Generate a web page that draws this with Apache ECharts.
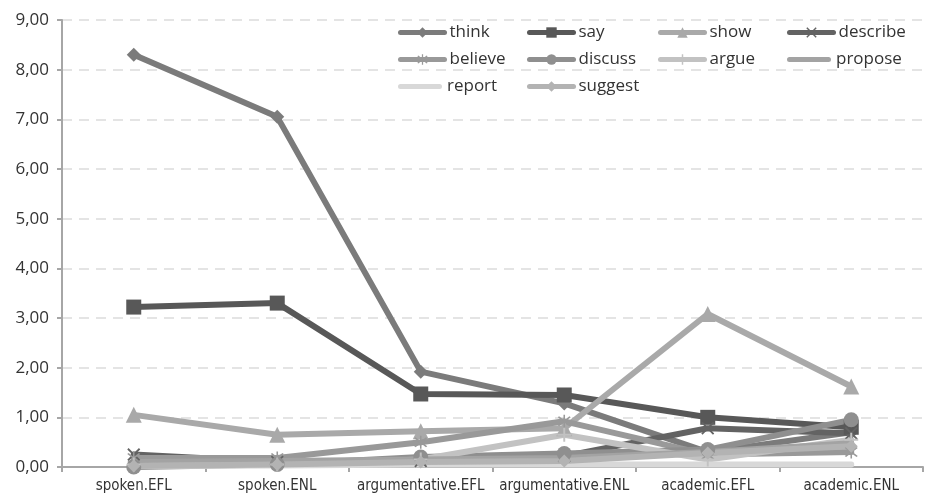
<!DOCTYPE html>
<html>
<head>
<meta charset="utf-8">
<script src="https://cdn.jsdelivr.net/npm/echarts@6/dist/echarts.min.js"></script>
<style>
  html, body { margin: 0; padding: 0; background: #fff; }
  #chart { width: 926px; height: 496px; }
</style>
</head>
<body>
<div id="chart"></div>
<script>
// Verb frequencies across the six corpora
const categories = ['spoken.EFL', 'spoken.ENL', 'argumentative.EFL', 'argumentative.ENL', 'academic.EFL', 'academic.ENL'];
const yTicks = [0, 1, 2, 3, 4, 5, 6, 7, 8, 9];

const think    = [8.30, 7.05, 1.92, 1.28, 0.30, 0.70];
const say      = [3.22, 3.30, 1.47, 1.45, 1.00, 0.80];
const show     = [1.05, 0.65, 0.72, 0.78, 3.08, 1.62];
const describe = [0.25, 0.10, 0.12, 0.22, 0.78, 0.68];
const believe  = [0.18, 0.18, 0.50, 0.92, 0.25, 0.30];
const discuss  = [0.00, 0.05, 0.20, 0.27, 0.35, 0.95];
const argue    = [0.05, 0.05, 0.15, 0.65, 0.15, 0.55];
const propose  = [0.10, 0.12, 0.15, 0.18, 0.30, 0.48];
const report   = [0.02, 0.03, 0.05, 0.05, 0.05, 0.05];
const suggest  = [0.02, 0.05, 0.10, 0.12, 0.28, 0.42];

const crossPath = 'path://M0,1L1,0L5,4L9,0L10,1L6,5L10,9L9,10L5,6L1,10L0,9L4,5Z';
const starPath = 'path://M0,1L1,0L5,4L9,0L10,1L6,5L10,9L9,10L5,6L1,10L0,9L4,5Z M4.4,-1.5L5.6,-1.5L5.6,11.5L4.4,11.5Z';
const plusPath = 'path://M4.3,0h1.4v4.3h4.3v1.4h-4.3v4.3h-1.4v-4.3h-4.3v-1.4h4.3Z';
// plain line key: a rounded bar centred in a 44x13 box (the corner specks only set the box)
const barPath = 'path://M0,0L0.01,0L0,0.01Z M44,13L43.99,13L44,12.99Z M2.5,4H41.5A2.5,2.5 0 0 1 41.5,9H2.5A2.5,2.5 0 0 1 2.5,4Z';

const seriesDefs = [
  { name: 'think',    data: think,    color: '#7b7b7b', symbol: 'diamond',  size: 14 },
  { name: 'say',      data: say,      color: '#585858', symbol: 'rect',     size: 15 },
  { name: 'show',     data: show,     color: '#a9a9a9', symbol: 'triangle', size: 16 },
  { name: 'describe', data: describe, color: '#636363', symbol: crossPath,  size: 13 },
  { name: 'believe',  data: believe,  color: '#999999', symbol: starPath,   size: 13 },
  { name: 'discuss',  data: discuss,  color: '#8f8f8f', symbol: 'circle',   size: 15 },
  { name: 'argue',    data: argue,    color: '#c2c2c2', symbol: plusPath,   size: 14 },
  { name: 'propose',  data: propose,  color: '#a3a3a3', symbol: 'none',     size: 0 },
  { name: 'report',   data: report,   color: '#d8d8d8', symbol: 'none',     size: 0 },
  { name: 'suggest',  data: suggest,  color: '#b3b3b3', symbol: 'diamond',  size: 13 }
];

const legendCols = [398, 527, 658, 787];
const legendRows = [24, 51, 78];
const legends = seriesDefs.map((s, i) => {
  const plain = s.symbol === 'none';
  return {
    data: plain ? [{ name: s.name, icon: barPath }] : [s.name],
    left: legendCols[i % 4],
    top: legendRows[Math.floor(i / 4)],
    itemWidth: 44,
    itemHeight: 13,
    itemGap: 2,
    padding: 0,
    selectedMode: false,
    lineStyle: { width: 5, cap: 'round' },
    textStyle: { fontFamily: 'Open Sans', fontSize: 17, color: '#333' }
  };
});

const chart = echarts.init(document.getElementById('chart'), null, { renderer: 'canvas' });
chart.setOption({
  animation: false,
  backgroundColor: '#fff',
  legend: legends,
  grid: { left: 62, right: 3, top: 20, bottom: 29, containLabel: false },
  xAxis: {
    type: 'category',
    data: categories,
    boundaryGap: true,
    axisLine: { lineStyle: { color: '#a6a6a6', width: 2 } },
    axisTick: { show: true, length: 5, lineStyle: { color: '#a6a6a6', width: 2 } },
    axisLabel: { fontFamily: 'DejaVu Sans Condensed, Open Sans', fontSize: 15, color: '#333', margin: 12, interval: 0 }
  },
  yAxis: {
    type: 'value',
    min: yTicks[0],
    max: yTicks[yTicks.length - 1],
    interval: 1,
    axisLine: { show: true, lineStyle: { color: '#a6a6a6', width: 2 } },
    axisTick: { show: true, length: 5, lineStyle: { color: '#a6a6a6', width: 2 } },
    axisLabel: {
      fontFamily: 'Open Sans', fontSize: 17, color: '#333', margin: 13,
      formatter: v => v.toFixed(2).replace('.', ',')
    },
    splitLine: { show: true, lineStyle: { color: '#e4e4e4', width: 2, type: [10, 7] } }
  },
  series: seriesDefs.map(s => ({
    name: s.name,
    type: 'line',
    data: s.data,
    symbol: s.symbol,
    symbolSize: s.size,
    showSymbol: s.symbol !== 'none',
    lineStyle: { color: s.color, width: 6, cap: 'round', join: 'round' },
    itemStyle: { color: s.color },
    emphasis: { disabled: true }
  }))
});
</script>
</body>
</html>
